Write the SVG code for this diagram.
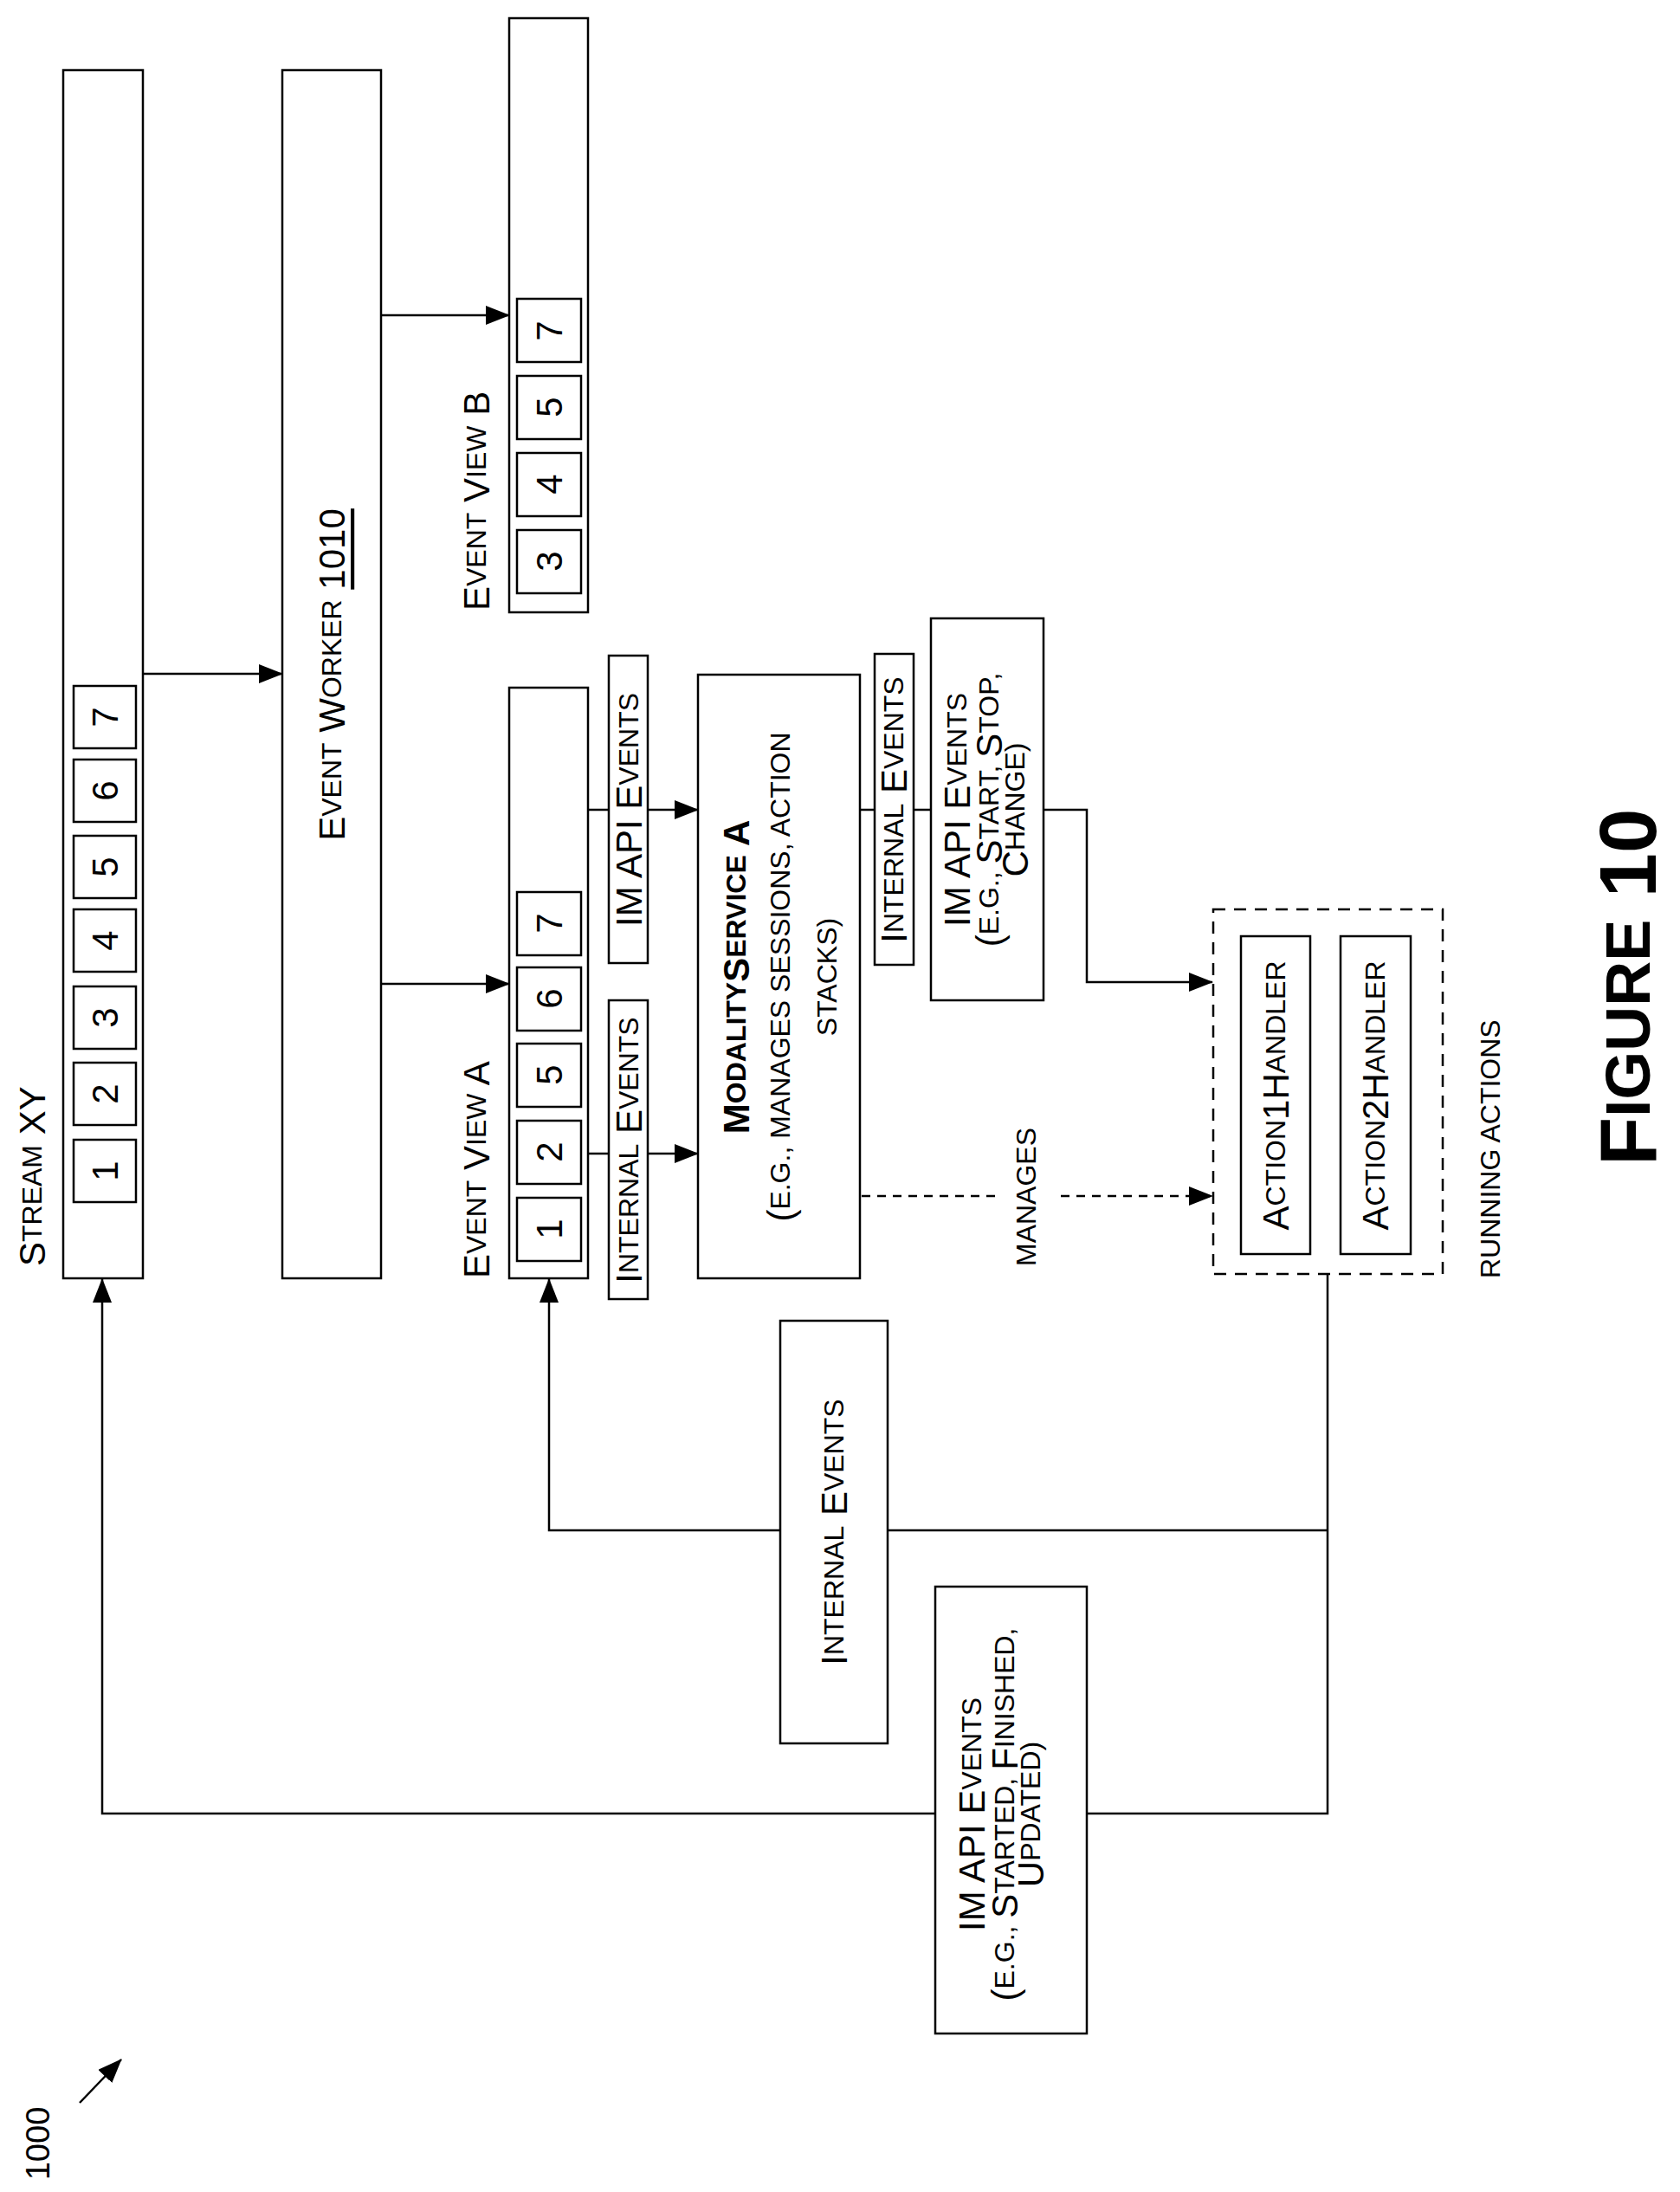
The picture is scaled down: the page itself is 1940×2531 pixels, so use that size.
<svg xmlns="http://www.w3.org/2000/svg" width="1940" height="2531" viewBox="0 0 1940 2531">
<style>
.b{fill:#fff;stroke:#000;stroke-width:2.5}
.c{fill:none;stroke:#000;stroke-width:2.5}
.d{fill:none;stroke:#000;stroke-width:2.5;stroke-dasharray:14 10}
text{font-family:"Liberation Sans Narrow","Liberation Sans",Arial,sans-serif;font-size:42px;fill:#000;dominant-baseline:central}
.s{font-size:32px}
.m{text-anchor:middle}
</style>
<defs>
<marker id="a" markerUnits="userSpaceOnUse" markerWidth="28" markerHeight="22" refX="27" refY="11" orient="auto"><path d="M0,0 L28,11 L0,22 Z" fill="#000"/></marker>
</defs>
<g id="connectors">
<line class="c" x1="165" y1="778" x2="326" y2="778" marker-end="url(#a)"/>
<line class="c" x1="440" y1="1136" x2="588" y2="1136" marker-end="url(#a)"/>
<line class="c" x1="440" y1="364" x2="588" y2="364" marker-end="url(#a)"/>
<line class="c" x1="679" y1="1332" x2="806" y2="1332" marker-end="url(#a)"/>
<line class="c" x1="679" y1="935" x2="806" y2="935" marker-end="url(#a)"/>
<polyline class="c" points="992,935 1255,935 1255,1134 1400,1134" marker-end="url(#a)"/>
<line class="c" x1="995" y1="1381" x2="1150" y2="1381" stroke-dasharray="10 8"/>
<line class="c" x1="1225" y1="1381" x2="1400" y2="1381" stroke-dasharray="10 8" marker-end="url(#a)"/>
<polyline class="c" points="1533,1471 1533,2094 118,2094 118,1477" marker-end="url(#a)"/>
<polyline class="c" points="1533,1767 634,1767 634,1477" marker-end="url(#a)"/>
<line class="c" x1="92" y1="2428" x2="140" y2="2378" marker-end="url(#a)"/>
</g>
<g id="stream">
<rect class="b" x="73" y="81" width="92" height="1395"/>
<text transform="translate(37,1462) rotate(-90)"><tspan>S</tspan><tspan class="s">TREAM</tspan> XY</text>
<g id="cells1">
<rect class="b" x="85" y="792" width="72" height="72"/><text class="m" transform="translate(121,828) rotate(-90)">7</text>
<rect class="b" x="85" y="877" width="72" height="72"/><text class="m" transform="translate(121,913) rotate(-90)">6</text>
<rect class="b" x="85" y="965" width="72" height="72"/><text class="m" transform="translate(121,1001) rotate(-90)">5</text>
<rect class="b" x="85" y="1050" width="72" height="72"/><text class="m" transform="translate(121,1086) rotate(-90)">4</text>
<rect class="b" x="85" y="1139" width="72" height="72"/><text class="m" transform="translate(121,1175) rotate(-90)">3</text>
<rect class="b" x="85" y="1227" width="72" height="72"/><text class="m" transform="translate(121,1263) rotate(-90)">2</text>
<rect class="b" x="85" y="1316" width="72" height="72"/><text class="m" transform="translate(121,1352) rotate(-90)">1</text>
</g>
</g>
<g id="worker">
<rect class="b" x="326" y="81" width="114" height="1395"/>
<text class="m" transform="translate(383,779) rotate(-90)"><tspan>E</tspan><tspan class="s">VENT</tspan> W<tspan class="s">ORKER</tspan> <tspan text-decoration="underline">1010</tspan></text>
</g>
<g id="viewB">
<rect class="b" x="588" y="21" width="91" height="686"/>
<text transform="translate(550,705) rotate(-90)">E<tspan class="s">VENT</tspan> V<tspan class="s">IEW</tspan> B</text>
<rect class="b" x="597" y="345" width="74" height="73"/><text class="m" transform="translate(634,382) rotate(-90)">7</text>
<rect class="b" x="597" y="434" width="74" height="73"/><text class="m" transform="translate(634,470) rotate(-90)">5</text>
<rect class="b" x="597" y="523" width="74" height="73"/><text class="m" transform="translate(634,559) rotate(-90)">4</text>
<rect class="b" x="597" y="612" width="74" height="73"/><text class="m" transform="translate(634,648) rotate(-90)">3</text>
</g>
<g id="viewA">
<rect class="b" x="588" y="794" width="91" height="682"/>
<text transform="translate(550,1476) rotate(-90)">E<tspan class="s">VENT</tspan> V<tspan class="s">IEW</tspan> A</text>
<rect class="b" x="597" y="1030" width="74" height="73"/><text class="m" transform="translate(634,1066) rotate(-90)">7</text>
<rect class="b" x="597" y="1117" width="74" height="73"/><text class="m" transform="translate(634,1153) rotate(-90)">6</text>
<rect class="b" x="597" y="1205" width="74" height="73"/><text class="m" transform="translate(634,1241) rotate(-90)">5</text>
<rect class="b" x="597" y="1294" width="74" height="73"/><text class="m" transform="translate(634,1330) rotate(-90)">2</text>
<rect class="b" x="597" y="1383" width="74" height="73"/><text class="m" transform="translate(634,1419) rotate(-90)">1</text>
</g>
<g id="lblInt1">
<rect class="b" x="703" y="1155" width="45" height="345"/>
<text class="m" transform="translate(726,1328) rotate(-90)">I<tspan class="s">NTERNAL</tspan> E<tspan class="s">VENTS</tspan></text>
</g>
<g id="lblApi1">
<rect class="b" x="703" y="757" width="45" height="355"/>
<text class="m" transform="translate(726,935) rotate(-90)">IM API E<tspan class="s">VENTS</tspan></text>
</g>
<g id="modality">
<rect class="b" x="806" y="779" width="187" height="697"/>
<text class="m" transform="translate(850,1128) rotate(-90)" style="font-weight:bold">M<tspan class="s">ODALITY</tspan>S<tspan class="s">ERVICE</tspan> A</text>
<text class="m" transform="translate(901,1128) rotate(-90)">(<tspan class="s">E.G., MANAGES SESSIONS, ACTION</tspan></text>
<text class="m s" transform="translate(955,1128) rotate(-90)">STACKS)</text>
</g>
<g id="lblInt2">
<rect class="b" x="1010" y="755" width="45" height="359"/>
<text class="m" transform="translate(1032,935) rotate(-90)">I<tspan class="s">NTERNAL</tspan> E<tspan class="s">VENTS</tspan></text>
</g>
<g id="lblApi2">
<rect class="b" x="1075" y="714" width="130" height="441"/>
<text class="m" transform="translate(1105,935) rotate(-90)">IM API E<tspan class="s">VENTS</tspan></text>
<text class="m" transform="translate(1142,935) rotate(-90)">(<tspan class="s">E.G., </tspan>S<tspan class="s">TART, </tspan>S<tspan class="s">TOP,</tspan></text>
<text class="m" transform="translate(1172,935) rotate(-90)">C<tspan class="s">HANGE)</tspan></text>
</g>
<g id="manages">
<text class="s" transform="translate(1185,1462) rotate(-90)">MANAGES</text>
</g>
<g id="running">
<rect class="d" x="1401" y="1050" width="265" height="421" fill="none"/>
<rect class="b" x="1433" y="1081" width="80" height="367"/>
<text class="m" transform="translate(1473,1265) rotate(-90)">A<tspan class="s">CTION</tspan>1H<tspan class="s">ANDLER</tspan></text>
<rect class="b" x="1548" y="1081" width="81" height="367"/>
<text class="m" transform="translate(1588,1265) rotate(-90)">A<tspan class="s">CTION</tspan>2H<tspan class="s">ANDLER</tspan></text>
<text class="s" transform="translate(1721,1476) rotate(-90)">RUNNING ACTIONS</text>
</g>
<g id="lblInt3">
<rect class="b" x="901" y="1525" width="124" height="488"/>
<text class="m" transform="translate(963,1769) rotate(-90)">I<tspan class="s">NTERNAL</tspan> E<tspan class="s">VENTS</tspan></text>
</g>
<g id="lblApi3">
<rect class="b" x="1080" y="1832" width="175" height="516"/>
<text class="m" transform="translate(1122,2095) rotate(-90)">IM API E<tspan class="s">VENTS</tspan></text>
<text class="m" transform="translate(1160,2095) rotate(-90)">(<tspan class="s">E.G., </tspan>S<tspan class="s">TARTED, </tspan>F<tspan class="s">INISHED,</tspan></text>
<text class="m" transform="translate(1190,2095) rotate(-90)">U<tspan class="s">PDATED)</tspan></text>
</g>
<g id="ref">
<text class="m" transform="translate(44,2475) rotate(-90)" style="font-size:38px">1000</text>
</g>
<g id="fig">
<text class="m" transform="translate(1880,1140) rotate(-90)" style="font-family:'Liberation Sans',Arial,sans-serif;font-weight:bold;font-size:92px">F<tspan style="font-size:72px">IGURE</tspan> 10</text>
</g>
</svg>
